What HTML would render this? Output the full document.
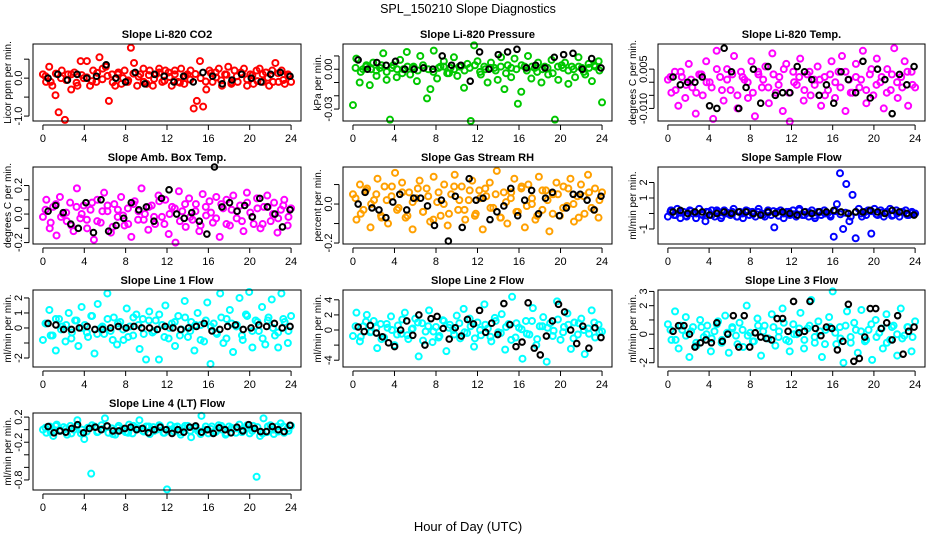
<!DOCTYPE html>
<html><head><meta charset="utf-8"><style>
body{margin:0;background:#fff}
svg{display:block;font-family:"Liberation Sans",sans-serif}
</style></head><body>
<svg id="chart" width="936" height="540" viewBox="0 0 936 540" xmlns="http://www.w3.org/2000/svg">
<rect width="936" height="540" fill="#fff"/>
<text x="468" y="13" font-size="12.5" text-anchor="middle">SPL_150210  Slope Diagnostics</text>
<text x="468" y="531" font-size="13" text-anchor="middle">Hour of Day (UTC)</text>
</svg>
<script>
const xTicks=[0,4,8,12,16,20,24];
const titles=["Slope Li-820 CO2","Slope Li-820 Pressure","Slope Li-820 Temp.","Slope Amb. Box Temp.","Slope Gas Stream RH","Slope Sample Flow","Slope Line 1 Flow","Slope Line 2 Flow","Slope Line 3 Flow","Slope Line 4 (LT) Flow"];
const yTitles=["Licor ppm per min.","kPa per min.","degrees C per min.","degrees C per min.","percent per min.","ml/min per min.","ml/min per min.","ml/min per min.","ml/min per min.","ml/min per min."];
const colors=["#ff0000","#00c800","#ff00ff","#ff00ff","#ffa000","#0000ff","#00ffff","#00ffff","#00ffff","#00ffff"];
const yTicks=[[-1,-0.5,0,0.5],[-0.03,-0.02,-0.01,0,0.01],[-0.01,-0.005,0,0.005],[-0.2,-0.1,0,0.1,0.2],[-0.2,-0.1,0,0.1],[-1,0,1,2],[-2,-1,0,1,2],[-4,-2,0,2,4],[-2,-1,0,1,2,3],[-0.8,-0.6,-0.4,-0.2,0,0.2]];
const yTickLabels=[["-1.0","","0.0",""],["-0.03","","","0.00",""],["-0.010","","","0.005"],["-0.2","","0.0","","0.2"],["-0.2","","0.0",""],["-1","","1","2"],["-2","","0","1","2"],["-4","","0","2","4"],["-2","","0","","2","3"],["-0.8","","","-0.2","","0.2"]];
const yLims=[[-1.13,0.9],[-0.039,0.019],[-0.0148,0.0146],[-0.21,0.33],[-0.205,0.19],[-1.97,3.0],[-2.6,2.53],[-4.9,5.3],[-2.3,3.1],[-0.96,0.265]];

const s1=[0.1,-0.1,0.3,-0.2,-0.45,-0.9,0.2,-1.1,0.1,-0.3,0.15,-0.2,0.45,0.0,0.45,-0.2,0.2,-0.1,0.55,0.25,0.3,-0.6,0.1,-0.2,0.15,-0.15,0.2,-0.1,0.8,0.4,-0.2,0.1,0.25,-0.15,0.2,-0.2,0.1,0.25,-0.1,0.2,0.15,-0.2,0.2,-0.1,0.25,-0.15,0.1,0.2,-0.8,-0.6,0.45,-0.75,-0.3,0.2,-0.1,0.15,0.25,-0.2,0.1,0.3,-0.15,0.2,-0.1,0.15,0.25,-0.2,0.1,-0.15,0.2,0.25,-0.1,0.15,-0.2,0.2,0.4,-0.1,0.2,-0.15,0.1,-0.1];
const b1=[0.05,-0.1,0.12,0.0,-0.05,0.1,-0.12,0.08,0.02,-0.08,0.14,-0.03,0.06,-0.11,0.1,0.0,-0.06,0.12,0.04,-0.1,0.08,-0.02,0.15,-0.07,0.03,0.1,-0.12,0.06,-0.04,0.11,0.0,-0.09,0.13,0.02,-0.06,0.09,-0.11,0.05,0.12,-0.03,0.07,-0.08,0.1,0.01,-0.1,0.13,-0.05,0.06];
const k1=[0,0.1,-0.05,0.1,0,0.05,0.35,0,-0.1,0.15,-0.15,0.1,0.05,-0.1,0.05,-0.1,0.15,0.05,-0.15,-0.05,0.1,0,-0.1,0.1,0.15,0.05];
const s2=[-0.027,0.008,-0.01,0,0.003,-0.012,0.005,-0.005,0.001,0.012,-0.008,-0.038,0.003,-0.006,0.007,0,0.013,-0.004,0.002,-0.009,0.01,0.001,-0.022,-0.015,0.014,-0.007,0.002,0.006,-0.003,0.001,0.009,-0.005,0.002,-0.014,0.004,-0.039,0.018,0.006,-0.004,0.002,-0.01,0.005,0.001,-0.008,0.009,-0.015,0.003,-0.006,0.008,-0.026,-0.017,0.002,0.01,-0.007,0.001,0.005,-0.01,0.002,-0.004,0.007,-0.038,-0.008,0.003,0.005,-0.011,0.002,-0.006,0.009,0.001,-0.004,0.004,-0.009,0.002,0.006,-0.025];
const b2=[0.001,-0.002,0.002,0,-0.001,0.003,-0.002,0.001,0,-0.003,0.002,0.001,-0.001,0.003,0,-0.002,0.001,0.002,-0.003,0,0.002,-0.001,0.001,0.003,-0.002,0,0.001,-0.001,0.002,-0.003,0.001,0,0.003,-0.001,0.002,-0.002,0,0.001,-0.003,0.002,0.001,-0.001,0,0.002,-0.002,0.001,0.003,-0.001];
const k2=[0.007,0,0.005,0.003,0.006,0,0,0.001,0,0.01,0.003,0.003,-0.009,0.013,0,0.011,0.013,0.015,0.001,0.003,0.001,0.009,0.011,0.012,0,0.008,0.001];
const s3=[0.001,-0.004,0.004,-0.009,0.002,-0.006,0.007,-0.002,-0.012,0.003,-0.005,0.008,0,-0.014,0.012,0.002,-0.007,0.005,-0.003,0.01,-0.01,0.004,0.001,-0.006,0.008,-0.013,0.003,-0.002,0.006,-0.008,0.011,-0.004,0.002,-0.011,0.007,-0.015,0.004,-0.001,0.009,-0.007,0.003,-0.005,0.001,0.006,-0.009,0.002,-0.003,0.008,-0.006,0.004,0.01,-0.011,0.001,-0.004,0.007,-0.002,0.012,-0.008,0.003,-0.005,0.009,0,-0.01,0.005,-0.003,0.013,-0.006,0.002,0.008,-0.009,0.004,-0.002];
const b3=[0.002,-0.003,0.004,-0.001,0.001,-0.004,0.003,0,-0.002,0.005,-0.003,0.001,0.003,-0.005,0.002,0,-0.004,0.004,0.001,-0.002,0.003,-0.001,0.005,-0.004,0,0.002,-0.003,0.004,-0.001,0.001,-0.005,0.003,0,-0.002,0.004,-0.004,0.002,0.001,-0.003,0.005,-0.001,0.002,-0.004,0.003,0,-0.002,0.004,-0.001];
const k3=[0.002,-0.001,0.0,0,0.002,-0.009,-0.01,0.013,0.004,-0.01,-0.002,0.005,-0.008,0.006,-0.005,-0.004,-0.004,0.006,0.004,0.001,-0.005,-0.001,-0.008,0.004,0.001,-0.004,0.008,-0.006,0.005,0.001,-0.012,0.003,-0.001,0.006];
const s4=[-0.02,0.1,-0.1,0.05,-0.15,0.12,0.0,-0.05,0.08,-0.12,0.18,-0.03,0.06,-0.1,0.03,-0.18,0.1,-0.06,0.15,0.02,-0.13,0.07,-0.02,0.12,-0.08,0.04,-0.16,0.09,-0.04,0.18,0,-0.11,0.06,-0.07,0.13,-0.02,0.1,-0.14,0.05,-0.2,0.16,0.02,-0.09,0.11,-0.04,0.07,-0.12,0.14,-0.01,0.09,-0.06,0.12,-0.16,0.04,0.1,-0.08,0.13,-0.03,0.06,-0.12,0.15,0.01,-0.07,0.11,-0.1,0.05,0.13,-0.05,0.08,-0.13,0.03,0.1,-0.08,0.04];
const b4=[0.03,-0.06,0.07,-0.02,0.01,-0.08,0.05,0,-0.04,0.08,-0.05,0.02,0.06,-0.09,0.03,-0.01,-0.07,0.07,0.02,-0.04,0.05,-0.02,0.09,-0.07,0,0.04,-0.05,0.07,-0.02,0.02,-0.08,0.05,0.01,-0.03,0.07,-0.07,0.03,0.02,-0.05,0.08,-0.02,0.04,-0.07,0.05,0,-0.03,0.06,-0.02];
const k4=[0.02,0.06,0.01,-0.07,-0.1,0.08,-0.13,0.1,-0.12,-0.08,-0.03,0.08,0.03,0.05,-0.05,0.11,0.17,0.0,-0.03,0.01,-0.05,-0.14,0.33,0.05,0.08,0.02,0.06,-0.02,0.11,0.05,0.0,-0.09,0.03];
const s5=[0.05,-0.08,0.1,-0.03,0.08,-0.12,0.02,0.13,-0.06,0.09,-0.1,0.04,0.16,-0.02,0.11,-0.07,0.06,-0.13,0.03,0.12,-0.04,0.08,-0.09,0.14,0.01,-0.06,0.1,-0.11,0.05,0.15,-0.03,0.09,-0.08,0.02,0.12,-0.05,0.07,-0.13,0.04,0.11,-0.02,0.17,-0.07,0.06,-0.1,0.03,0.13,-0.04,0.08,-0.12,0.1,0.0,-0.08,0.14,-0.03,0.07,-0.14,0.05,0.11,-0.06,0.09,-0.01,0.13,-0.09,0.04,0.1,-0.05,0.15,-0.02,0.08,-0.07,0.06];
const b5=[0.03,-0.05,0.07,0,0.05,-0.07,0.02,0.09,-0.03,0.06,-0.06,0.01,0.08,-0.04,0.04,-0.08,0.06,0,-0.05,0.09,0.02,-0.03,0.07,-0.06,0.03,0.08,-0.02,0.05,-0.07,0.01,0.06,-0.04,0.09,-0.01,0.03,-0.06,0.07,0.02,-0.05,0.05,-0.02,0.08,0,-0.07,0.04,0.06,-0.03,0.02];
const k5=[0.0,0.06,-0.02,-0.03,-0.07,0.01,0.05,-0.03,0.03,0.03,-0.01,-0.11,0.02,-0.19,0.04,-0.12,0.13,0.02,0.03,-0.08,-0.04,-0.01,0.08,-0.06,0.02,0.07,-0.05,0.03,0.06,-0.06,-0.02,0.05,0.05,0.02,-0.03,0.04];
const s6=[-0.2,0.2,-0.1,0.3,-0.3,0.1,-0.2,0.2,0,-0.3,0.3,-0.1,-0.5,0.1,0.2,-0.2,0.1,-0.3,0.2,0,-0.1,0.3,-0.2,0.1,-0.3,0.2,-0.1,0.1,-0.2,0.3,0,-0.2,0.2,-0.1,-0.9,0.1,0.2,-0.3,0.1,-0.1,0.2,-0.2,0.3,-0.1,0.1,-0.2,0.2,-0.3,0.1,-0.1,0.2,0,-0.2,-1.5,0.6,2.6,-1.0,1.9,-0.5,1.2,-1.6,0.3,-0.2,0.1,0.2,-1.3,0.3,-0.1,0.2,-0.2,0.1,0.3,-0.1,0.2,-0.2,0.1,0.2,-0.1,0.1,0];
const b6=[0.1,-0.1,0.05,-0.15,0.15,0,-0.05,0.1,-0.1,0.2,-0.15,0.05,0.1,-0.2,0,0.15,-0.05,0.1,-0.1,0.05,0.15,-0.15,0,0.1,-0.05,0.2,-0.1,0.05,-0.15,0.1,0,-0.1,0.15,-0.05,0.05,-0.2,0.1,0,-0.1,0.15,-0.05,0.05,0.1,-0.15,0,0.1,-0.1,0.05];
const k6=[0.1,0.2,0.0,0.1,0.1,-0.1,0.0,0.1,0.0,0.1,0.1,0.0,-0.1,0.1,0,0.1,0,-0.1,0.1,0.0,0.1,0.1,0.2,0.1,0,0.1,0.1,0.2,0.1,0.0,0.2,0.1,0,-0.1];
const s7=[-0.8,0.3,1.2,-0.5,-1.5,0.6,0.1,-0.9,1.0,-0.3,0.5,-1.2,1.4,0.2,-0.6,0.8,-1.7,1.6,0.0,-0.4,2.3,-0.2,0.7,-1.1,0.4,-0.8,1.3,0.1,-0.5,0.9,-1.4,0.6,-2.1,1.1,-0.3,0.5,-2.1,0.2,1.5,-0.7,0.3,-1.2,0.8,-0.1,1.8,-0.6,0.4,-1.5,1.0,0.2,-0.9,1.7,-2.4,0.3,-0.4,2.3,-1.0,0.6,1.2,-1.6,0.1,2.0,-0.8,0.9,2.4,-1.3,0.5,-0.2,1.4,-1.1,0.7,1.9,-0.5,-1.3,2.3,0.4,-1.0,0.8];
const b7=[0.3,-0.5,0.6,-0.1,0.2,-0.7,0.5,0,-0.3,0.8,-0.4,0.1,0.6,-0.8,0.3,-0.1,-0.6,0.7,0.2,-0.4,0.5,-0.2,0.9,-0.6,0,0.4,-0.5,0.7,-0.2,0.2,-0.8,0.5,0.1,-0.3,0.7,-0.7,0.3,0.2,-0.5,0.8,-0.2,0.4,-0.7,0.5,0,-0.3,0.6,-0.2];
const k7=[0.3,0.2,-0.1,-0.1,0,0.1,-0.1,-0.1,0,0.1,0,0.1,0,0,-0.1,0.1,0,-0.1,0,0.1,0.3,-0.2,-0.1,0.1,0.2,-0.1,0,0.2,0.1,0.3,0,0.1];
const s8=[-0.8,2.3,-1.5,0.5,2.0,-0.3,1.2,-2.4,0.8,-1.0,0.3,1.8,-2.0,0.6,-0.5,2.3,-1.2,0.1,1.5,-3.5,0.9,-0.2,2.6,-1.6,0.4,-0.8,1.3,-2.8,0.7,0.0,1.9,-1.1,2.8,-0.4,0.5,-2.2,1.0,-0.7,3.4,0.2,-1.5,1.6,-0.3,2.1,-2.6,0.8,4.4,-1.0,0.3,-3.8,1.2,-0.6,2.9,-2.0,0.5,1.7,-4.2,0.9,-0.1,3.8,-1.3,0.4,2.2,-2.5,1.0,-0.6,1.5,-3.2,0.2,2.6,-1.0,0.7,-0.2];
const b8=[0.5,-0.9,1.1,-0.2,0.3,-1.2,0.8,0,-0.6,1.4,-0.7,0.2,1.0,-1.4,0.5,-0.2,-1.0,1.2,0.3,-0.6,0.9,-0.3,1.5,-1.1,0,0.7,-0.9,1.2,-0.4,0.4,-1.3,0.9,0.1,-0.5,1.2,-1.2,0.5,0.3,-0.8,1.4,-0.3,0.7,-1.1,0.9,0,-0.5,1.0,-0.3];
const k8=[0.4,-0.2,0.6,-0.4,-0.9,-1.7,-2.2,0.0,1.2,-0.7,2.0,-2.0,1.5,1.8,0.2,-1.2,0.3,-0.8,1.4,0.8,2.6,-0.3,0.9,-0.6,3.5,0.7,-2.2,-1.6,3.6,-2.4,-3.3,-0.8,1.2,3.4,2.4,0.0,-1.8,0.5,-2.4,0.3,-1.0];
const s9=[0.7,-0.4,1.6,-1.0,0.3,1.2,-1.6,0.5,-0.8,1.0,-0.2,0.6,-1.2,0.2,0.9,-0.6,1.3,-1.3,0.4,-0.1,0.8,-0.9,2.0,0.1,-0.5,1.1,-1.5,0.6,-0.3,1.4,-0.8,0.2,1.8,-0.4,-1.2,0.7,0.0,1.5,-1.0,0.4,2.4,-0.6,0.9,-1.6,0.3,1.2,3.0,-0.7,0.5,-2.0,1.6,-0.2,0.8,-1.3,1.7,-0.5,0.3,-1.8,1.0,0.1,-1.0,1.4,-0.4,0.6,-1.5,1.8,-0.1,0.5,-1.2,0.9];
const b9=[0.3,-0.4,0.6,-0.1,0.2,-0.6,0.5,0,-0.3,0.7,-0.4,0.1,0.5,-0.7,0.3,-0.1,-0.5,0.6,0.2,-0.3,0.5,-0.2,0.8,-0.5,0,0.4,-0.4,0.6,-0.2,0.2,-0.7,0.5,0.1,-0.3,0.6,-0.6,0.3,0.2,-0.4,0.7,-0.2,0.4,-0.6,0.5,0,-0.3,0.5,-0.2];
const k9=[0.2,0.6,0.6,0.0,-0.9,-0.6,-0.4,-0.6,0.8,-0.5,0.0,1.3,-0.9,1.3,-0.9,0.1,-0.2,-0.3,-0.4,1.1,1.1,0.2,2.3,0.1,0.2,2.3,0.4,-0.1,0.5,0.4,-1.1,-0.5,2.1,-1.9,-1.7,-0.2,1.8,1.8,0.4,0.8,-0.4,1.3,-1.4,0.2,0.5];
const s10=[0.0,-0.05,0.05,-0.1,0.08,-0.02,0.04,-0.08,0.06,0.0,0.15,-0.06,-0.15,0.03,-0.7,0.05,-0.03,0.07,0.18,-0.05,0.02,-0.08,0.06,0.0,-0.04,0.08,-0.06,0.03,0.15,-0.02,0.05,-0.07,0.04,0.0,0.06,-0.05,-0.95,0.07,-0.03,0.05,-0.08,0.02,0.06,-0.12,0.04,-0.02,0.22,0.0,-0.06,0.05,-0.04,0.07,0.0,-0.08,0.05,0.02,-0.05,0.08,0.0,0.03,-0.06,0.06,-0.75,-0.1,0.18,-0.04,0.07,-0.07,0.05,0.1,-0.05,0.02,0.06];
const b10=[0.03,-0.04,0.06,-0.01,0.02,-0.06,0.05,0,-0.03,0.07,-0.04,0.01,0.05,-0.07,0.03,-0.01,-0.05,0.06,0.02,-0.03,0.05,-0.02,0.07,-0.05,0,0.04,-0.04,0.06,-0.02,0.02,-0.07,0.05,0.01,-0.03,0.06,-0.06,0.03,0.02,-0.04,0.07,-0.02,0.04,-0.06,0.05,0,-0.03,0.05,-0.02];
const k10=[0.05,-0.05,-0.02,-0.04,0.02,0.08,-0.05,0.02,0.04,0.0,0.06,-0.02,-0.02,0.02,0.04,0.0,0.02,-0.05,0.0,0.04,0.0,-0.06,0.0,-0.04,0.04,0.06,-0.04,0.0,-0.06,0.03,0.0,-0.05,0.04,-0.02,0.08,0.02,-0.03,-0.03,0.05,0.0,-0.03,0.07];
const seriesColored=[s1,s2,s3,s4,s5,s6,s7,s8,s9,s10];
const seriesCore=[b1,b2,b3,b4,b5,b6,b7,b8,b9,b10];
const seriesBlack=[k1,k2,k3,k4,k5,k6,k7,k8,k9,k10];

const NS="http://www.w3.org/2000/svg";
const svg=document.getElementById('chart');
const colL=[33,343,658],colR=[301,612,925],rowT=[44,167,290,413],rowB=[121,244,367,490];
function mk(tag,attrs,parent){const e=document.createElementNS(NS,tag);for(const k in attrs)e.setAttribute(k,attrs[k]);parent.appendChild(e);return e;}
for(let p=0;p<10;p++){
  const L=colL[p%3],R=colR[p%3],T=rowT[Math.floor(p/3)],B=rowB[Math.floor(p/3)];
  const [y0,y1]=yLims[p];
  const xs=v=>L+(v+0.96)/25.92*(R-L);
  const ys=v=>B-(v-y0)/(y1-y0)*(B-T);
  const g=mk('g',{},svg);
  
  
  const t=mk('text',{x:(L+R)/2,y:T-6,'font-size':11,'font-weight':'bold','text-anchor':'middle'},g);
  t.textContent=titles[p];
  
  
  const yt=mk('text',{transform:`translate(${L-22},${(T+B)/2}) rotate(-90)`,'font-size':10,'text-anchor':'middle'},g);
  yt.textContent=yTitles[p];
  
  
  const pts=mk('g',{fill:'none','stroke-width':2},g);
  
  
  const sb=seriesCore[p];
  sb.forEach((v,i)=>{
    const c=mk('circle',{cx:xs(0.25+i*23.5/(sb.length-1)),cy:ys(v),r:3,stroke:colors[p]},pts);
    
    
  });
  const sc=seriesColored[p];
  sc.forEach((v,i)=>{
    const c=mk('circle',{cx:xs(i*24/(sc.length-1)),cy:ys(v),r:3,stroke:colors[p]},pts);
    
    
  });
  const sk=seriesBlack[p];
  sk.forEach((v,i)=>{
    const c=mk('circle',{cx:xs(0.5+i*23.4/(sk.length-1)),cy:ys(v),r:2.8,stroke:'#000'},pts);
    
    
  });
  const box=mk('rect',{x:L,y:T,width:R-L,height:B-T,fill:'none',stroke:'#000','stroke-width':1},g);
  
  
  const xa=mk('g',{},g);
  
  
  mk('line',{x1:xs(0),x2:xs(24),y1:B+4,y2:B+4,stroke:'#000'},xa);
  xTicks.forEach(v=>{
    mk('line',{x1:xs(v),x2:xs(v),y1:B+4,y2:B+9,stroke:'#000'},xa);
    const lb=mk('text',{x:xs(v),y:B+21,'font-size':11,'text-anchor':'middle'},xa);
    lb.textContent=v;
    
    
  });
  const ya=mk('g',{},g);
  
  
  const tk=yTicks[p];
  mk('line',{x1:L-4,x2:L-4,y1:ys(tk[0]),y2:ys(tk[tk.length-1]),stroke:'#000'},ya);
  tk.forEach((v,i)=>{
    mk('line',{x1:L-9,x2:L-4,y1:ys(v),y2:ys(v),stroke:'#000'},ya);
    if(yTickLabels[p][i]){
      const lb=mk('text',{transform:`translate(${L-11},${ys(v)}) rotate(-90)`,'font-size':11,'text-anchor':'middle'},ya);
      lb.textContent=yTickLabels[p][i];
      
      
    }
  });
}
</script>
</body></html>
